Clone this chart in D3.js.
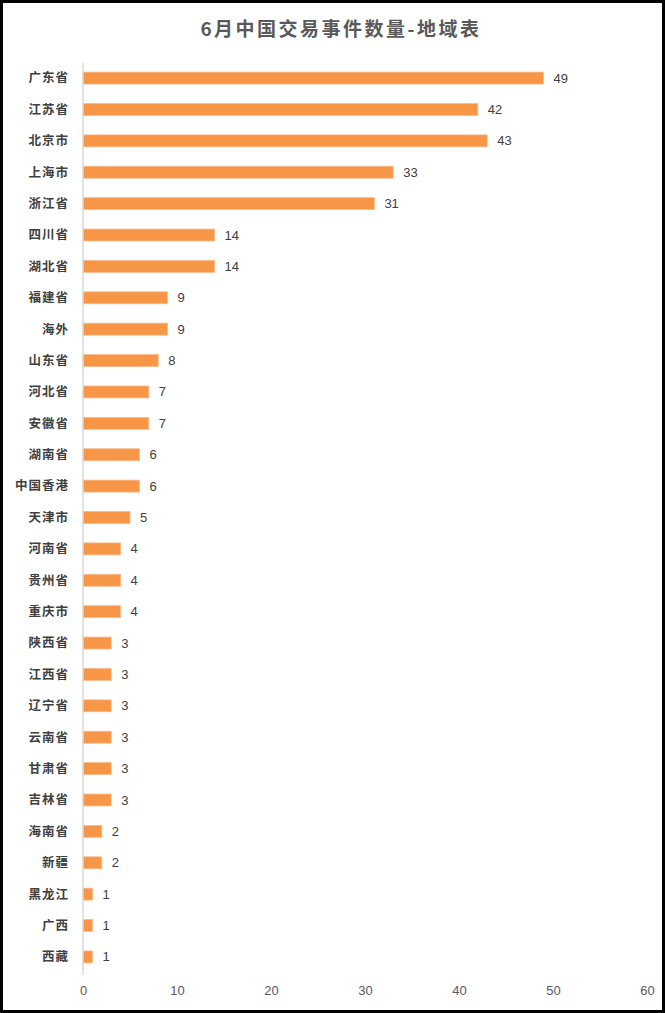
<!DOCTYPE html>
<html>
<head>
<meta charset="utf-8">
<script src="https://cdn.jsdelivr.net/npm/d3@7"></script>
<style>
  html, body { margin: 0; padding: 0; background: #fff; }
  svg { display: block; }
</style>
</head>
<body>
<script>
// data
const regions = ['广东省', '江苏省', '北京市', '上海市', '浙江省', '四川省', '湖北省', '福建省', '海外', '山东省',
  '河北省', '安徽省', '湖南省', '中国香港', '天津市', '河南省', '贵州省', '重庆市', '陕西省', '江西省',
  '辽宁省', '云南省', '甘肃省', '吉林省', '海南省', '新疆', '黑龙江', '广西', '西藏'];
const counts = [49, 42, 43, 33, 31, 14, 14, 9, 9, 8,
  7, 7, 6, 6, 5, 4, 4, 4, 3, 3,
  3, 3, 3, 3, 2, 2, 1, 1, 1];
const xTicks = [0, 10, 20, 30, 40, 50, 60];
const title = '6月中国交易事件数量-地域表';

const W = 665, H = 1013;
const svg = d3.select('body').append('svg').attr('width', W).attr('height', H);

// outer frame
svg.append('rect')
  .attr('x', 1.5).attr('y', 1.5)
  .attr('width', W - 3).attr('height', H - 3)
  .attr('fill', '#fff').attr('stroke', '#000').attr('stroke-width', 3);

svg.append('text')
  .attr('x', 341).attr('y', 36)
  .attr('text-anchor', 'middle')
  .attr('font-family', '"Noto Sans CJK SC", sans-serif')
  .attr('font-weight', 'bold')
  .attr('font-size', 19)
  .attr('letter-spacing', 2.5)
  .attr('fill', '#595959')
  .text(title);

const x = d3.scaleLinear().domain([0, 60]).range([83, 647]);
const y = d3.scaleBand().domain(regions).range([63, 972])
  .paddingInner(0.62).paddingOuter(0.29);

const rows = regions.map((r, i) => ({ r, v: counts[i] }));

svg.append('g').selectAll('rect').data(rows).join('rect')
  .attr('x', x(0))
  .attr('y', d => y(d.r))
  .attr('width', d => x(d.v) - x(0))
  .attr('height', y.bandwidth())
  .attr('fill', '#f79646')
  .attr('stroke', '#fbb98a')
  .attr('stroke-width', 0.8);

// category axis line
svg.append('line')
  .attr('x1', x(0)).attr('x2', x(0))
  .attr('y1', 63).attr('y2', 975)
  .attr('stroke', '#d9d9d9').attr('stroke-width', 1.5);

svg.append('g').selectAll('text').data(rows).join('text')
  .attr('x', 69)
  .attr('y', d => y(d.r) + y.bandwidth() / 2)
  .attr('dy', '0.35em')
  .attr('text-anchor', 'end')
  .attr('font-family', '"Noto Sans CJK SC", sans-serif')
  .attr('font-weight', 'bold')
  .attr('font-size', 12.5)
  .attr('letter-spacing', 1)
  .attr('fill', '#404040')
  .text(d => d.r);

svg.append('g').selectAll('text').data(rows).join('text')
  .attr('x', d => x(d.v) + 10)
  .attr('y', d => y(d.r) + y.bandwidth() / 2)
  .attr('dy', '0.35em')
  .attr('font-family', '"Liberation Sans", sans-serif')
  .attr('font-size', 13)
  .attr('fill', '#404040')
  .text(d => d.v);

const xAxis = svg.append('g')
  .attr('transform', 'translate(0,990)')
  .call(d3.axisBottom(x).tickValues(xTicks).tickSize(0).tickPadding(0));
xAxis.select('.domain').remove();
xAxis.selectAll('text')
  .attr('dy', '0.35em')
  .attr('font-family', '"Liberation Sans", sans-serif')
  .attr('font-size', 13)
  .attr('fill', '#595959');
</script>
</body>
</html>
